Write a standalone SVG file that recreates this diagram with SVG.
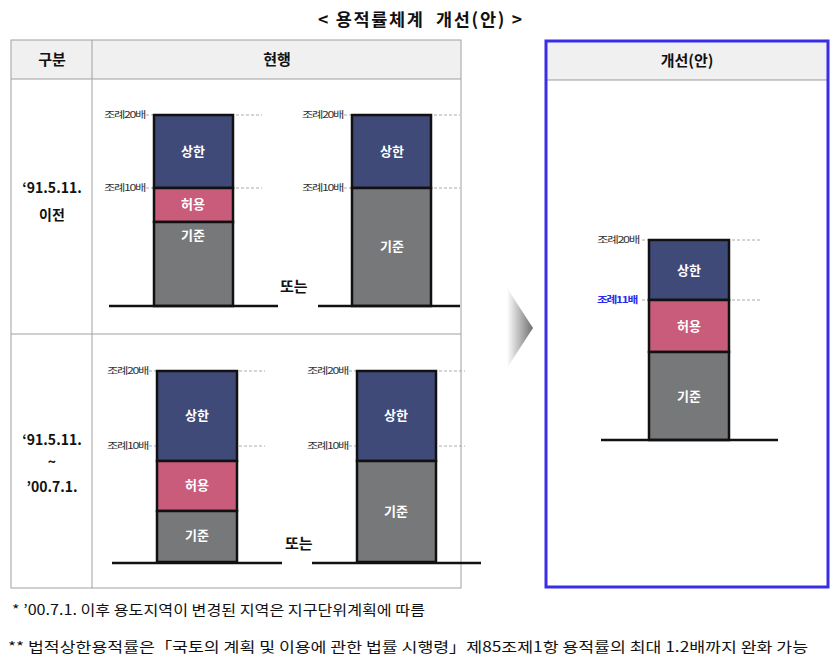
<svg xmlns="http://www.w3.org/2000/svg" width="839" height="664" viewBox="0 0 839 664">
<defs>
<linearGradient id="arrowGrad" x1="0" y1="0" x2="1" y2="0">
<stop offset="0" stop-color="#ffffff"/>
<stop offset="1" stop-color="#6e6e6e"/>
</linearGradient>
<style>
text{font-family:"Noto Sans CJK KR","Noto Sans",sans-serif;}
.hdr{fill:#f0f0f0;}
.grid{stroke:#a0a0a0;stroke-width:1;fill:none;}
.ht{font-size:15px;font-weight:bold;fill:#111;text-anchor:middle;}
.rt{font-size:14px;font-weight:bold;fill:#111;text-anchor:middle;}
.up{fill:#404a78;stroke:#111;stroke-width:2.5;}
.al{fill:#c95b7b;stroke:#111;stroke-width:2.5;}
.bs{fill:#77787a;stroke:#111;stroke-width:2.5;}
.bt{font-size:13px;font-weight:bold;fill:#fff;text-anchor:middle;}
.gl{stroke:#111;stroke-width:2.5;}
.dl{stroke:#aaa;stroke-width:1;stroke-dasharray:3,2;}
.sl{font-size:9px;fill:#333;letter-spacing:-1px;}
.or{font-size:15px;font-weight:bold;fill:#111;}
.fn{font-size:14px;fill:#111;}
</style>
</defs>

<text x="318" y="26" font-size="17.5" font-weight="bold" fill="#111" textLength="204" lengthAdjust="spacing" xml:space="preserve">&lt; 용적률체계  개선(안) &gt;</text>

<g id="table">
<rect class="hdr" x="11" y="40" width="450" height="39"/>
<rect class="grid" x="11" y="40" width="450" height="548"/>
<line class="grid" x1="11" y1="79" x2="461" y2="79"/>
<line class="grid" x1="11" y1="334" x2="461" y2="334"/>
<line class="grid" x1="92" y1="40" x2="92" y2="588"/>
<text class="ht" x="52" y="65">구분</text>
<text class="ht" x="277" y="65">현행</text>
<text class="rt" x="52" y="193">‘91.5.11.</text>
<text class="rt" x="52" y="220">이전</text>
<text class="rt" x="52" y="445">‘91.5.11.</text>
<text class="rt" x="52" y="467">~</text>
<text class="rt" x="52" y="492">’00.7.1.</text>
</g>

<g id="panel-improved">
<rect class="hdr" x="546" y="41" width="282" height="39"/>
<line x1="546" y1="80" x2="828" y2="80" stroke="#999" stroke-width="1"/>
<rect x="546" y="41" width="282" height="546" fill="none" stroke="#3a2de8" stroke-width="3"/>
<text class="ht" x="687" y="66">개선(안)</text>
</g>

<g id="arrow">
<polygon points="507,288 533,328 507,368" fill="url(#arrowGrad)"/>
</g>

<g id="chart-r1-a">
<line class="dl" x1="146" y1="115" x2="262" y2="115"/>
<line class="dl" x1="146" y1="188" x2="262" y2="188"/>
<text class="sl" x="104" y="118" textLength="41" lengthAdjust="spacingAndGlyphs">조례20배</text>
<text class="sl" x="104" y="191" textLength="41" lengthAdjust="spacingAndGlyphs">조례10배</text>
<rect class="up" x="154" y="115" width="79" height="73"/>
<rect class="al" x="154" y="188" width="79" height="34"/>
<rect class="bs" x="154" y="222" width="79" height="84"/>
<line class="gl" x1="109" y1="306" x2="278" y2="306"/>
<text class="bt" x="193" y="156">상한</text>
<text class="bt" x="193" y="209">허용</text>
<text class="bt" x="193" y="240">기준</text>
</g>

<text class="or" x="280" y="292">또는</text>

<g id="chart-r1-b">
<line class="dl" x1="344" y1="115" x2="460" y2="115"/>
<line class="dl" x1="344" y1="188" x2="460" y2="188"/>
<text class="sl" x="302" y="118" textLength="41" lengthAdjust="spacingAndGlyphs">조례20배</text>
<text class="sl" x="302" y="191" textLength="41" lengthAdjust="spacingAndGlyphs">조례10배</text>
<rect class="up" x="352" y="115" width="79" height="73"/>
<rect class="bs" x="352" y="188" width="79" height="118"/>
<line class="gl" x1="318" y1="306" x2="460" y2="306"/>
<text class="bt" x="392" y="156">상한</text>
<text class="bt" x="392" y="251">기준</text>
</g>

<g id="chart-r2-a">
<line class="dl" x1="149" y1="371" x2="265" y2="371"/>
<line class="dl" x1="149" y1="446" x2="265" y2="446"/>
<text class="sl" x="107" y="374" textLength="41" lengthAdjust="spacingAndGlyphs">조례20배</text>
<text class="sl" x="107" y="449" textLength="41" lengthAdjust="spacingAndGlyphs">조례10배</text>
<rect class="up" x="157" y="371" width="80" height="90"/>
<rect class="al" x="157" y="461" width="80" height="50"/>
<rect class="bs" x="157" y="511" width="80" height="51"/>
<line class="gl" x1="112" y1="563" x2="282" y2="563"/>
<text class="bt" x="197" y="420">상한</text>
<text class="bt" x="197" y="490">허용</text>
<text class="bt" x="197" y="540">기준</text>
</g>

<text class="or" x="285" y="549">또는</text>

<g id="chart-r2-b">
<line class="dl" x1="349" y1="371" x2="465" y2="371"/>
<line class="dl" x1="349" y1="446" x2="465" y2="446"/>
<text class="sl" x="307" y="374" textLength="41" lengthAdjust="spacingAndGlyphs">조례20배</text>
<text class="sl" x="307" y="449" textLength="41" lengthAdjust="spacingAndGlyphs">조례10배</text>
<rect class="up" x="357" y="371" width="79" height="90"/>
<rect class="bs" x="357" y="461" width="79" height="101"/>
<line class="gl" x1="312" y1="563" x2="481" y2="563"/>
<text class="bt" x="396" y="420">상한</text>
<text class="bt" x="396" y="516">기준</text>
</g>

<g id="chart-improved">
<line class="dl" x1="642" y1="240" x2="760" y2="240"/>
<line class="dl" x1="642" y1="300" x2="760" y2="300"/>
<text class="sl" x="597" y="243" textLength="42" lengthAdjust="spacingAndGlyphs">조례20배</text>
<text class="sl" x="597" y="303" textLength="40" lengthAdjust="spacingAndGlyphs" style="fill:#2a2af0;font-weight:bold">조례11배</text>
<rect class="up" x="649" y="240" width="80" height="60"/>
<rect class="al" x="649" y="300" width="80" height="52"/>
<rect class="bs" x="649" y="352" width="80" height="88"/>
<line class="gl" x1="601" y1="440" x2="778" y2="440"/>
<text class="bt" x="689" y="275">상한</text>
<text class="bt" x="689" y="331">허용</text>
<text class="bt" x="689" y="401">기준</text>
</g>

<text class="fn" x="12" y="615" textLength="413" lengthAdjust="spacingAndGlyphs">* ’00.7.1. 이후 용도지역이 변경된 지역은 지구단위계획에 따름</text>
<text class="fn" x="8" y="652" textLength="800" lengthAdjust="spacingAndGlyphs">** 법적상한용적률은「국토의 계획 및 이용에 관한 법률 시행령」제85조제1항 용적률의 최대 1.2배까지 완화 가능</text>
</svg>
